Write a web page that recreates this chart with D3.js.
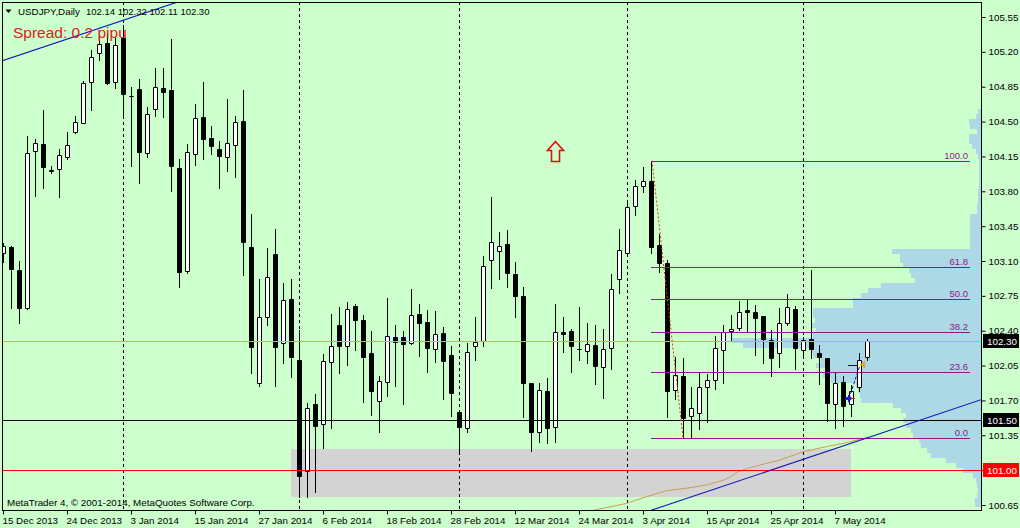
<!DOCTYPE html>
<html><head><meta charset="utf-8">
<script src="https://cdn.jsdelivr.net/npm/d3@7"></script>
<style>
html,body{margin:0;padding:0;background:#ccffcc;overflow:hidden;}
svg{display:block;}
</style></head><body>
<svg id="c" width="1020" height="528"></svg>
<script>
// ---------------- DATA ----------------
const symbolName = "USDJPY,Daily";
const opens = [103.18,103.24,103.01,102.63,104.20,104.27,104.01,104.02,104.14,104.40,
104.49,104.90,105.19,105.29,104.90,105.34,104.76,104.83,104.18,104.63,
104.84,104.82,104.03,103.00,104.17,104.55,104.34,104.22,104.14,104.26,
104.51,103.24,101.88,102.54,103.17,102.28,102.72,102.11,100.99,101.66,
101.46,102.09,102.46,102.25,102.65,102.51,102.18,101.69,101.89,102.34,
102.34,102.28,102.57,102.49,102.22,102.38,102.16,101.58,101.42,102.25,
102.30,103.11,103.20,103.27,102.97,102.75,101.88,101.38,101.79,101.43,
102.39,102.40,102.22,102.20,102.26,102.04,102.23,102.92,103.18,103.65,
103.85,103.90,103.26,103.08,101.80,101.95,101.54,101.57,101.83,101.91,
102.21,102.40,102.43,102.61,102.59,102.55,102.31,102.18,102.48,102.62,
102.21,102.32,102.18,102.13,101.66,101.89,101.66,101.83,102.14];
const highs = [103.28,103.25,103.10,104.36,104.33,104.62,104.05,104.22,104.40,104.56,
104.91,105.22,105.37,105.38,105.34,105.47,104.85,104.93,104.65,105.04,
105.04,105.33,104.12,104.27,104.68,104.90,104.46,104.30,104.73,104.56,
104.82,103.57,102.92,103.23,103.42,102.88,102.92,102.41,101.67,101.76,
102.17,102.57,102.64,102.69,102.67,102.56,102.40,101.95,102.73,102.46,
102.40,102.82,102.67,102.61,102.60,102.44,102.25,101.60,102.28,102.54,
103.15,103.74,103.39,103.41,103.09,102.84,101.88,101.87,101.93,102.67,
102.54,102.42,102.64,102.48,102.46,102.42,102.97,103.42,103.70,103.91,
104.04,104.107,103.37,103.11,102.14,102.13,101.83,101.99,101.97,102.35,
102.46,102.56,102.70,102.71,102.66,102.55,102.41,102.63,102.77,102.65,
102.34,103.01,102.26,102.13,101.99,101.95,101.85,102.18,102.32];
const lows = [103.09,102.63,102.48,102.62,103.75,103.83,103.98,103.74,104.12,104.39,
104.49,104.62,105.12,104.88,104.84,104.54,104.05,103.88,104.14,104.56,
104.55,103.80,102.84,102.98,104.06,104.12,104.17,103.83,104.00,103.94,
102.96,101.98,101.84,102.46,101.84,102.08,101.94,100.73,100.73,100.78,
101.22,101.42,101.98,102.06,102.21,101.68,101.55,101.38,101.74,101.84,
101.66,102.27,102.15,101.99,102.09,101.71,101.54,101.17,101.38,102.11,
102.25,102.83,102.92,102.84,102.54,101.53,101.19,101.28,101.27,101.28,
102.19,101.99,102.11,102.08,101.86,101.72,102.02,102.78,103.16,103.56,
103.79,103.18,102.99,101.53,101.71,101.326,101.32,101.41,101.48,101.81,
101.87,102.31,102.41,102.40,102.16,102.08,101.95,102.04,102.46,102.02,
102.13,102.13,101.86,101.49,101.42,101.44,101.54,101.79,102.11];
const closes = [103.25,103.02,102.63,104.18,104.28,104.04,104.00,104.16,104.26,104.50,
104.89,105.15,105.28,104.89,105.27,104.78,104.76,104.19,104.58,104.85,
104.80,104.05,102.99,104.19,104.54,104.33,104.25,104.15,104.28,104.50,
103.29,102.24,102.54,102.94,102.24,102.71,102.14,100.94,101.62,101.44,
102.10,102.25,102.25,102.62,102.51,102.14,101.79,101.90,102.35,102.29,
102.27,102.56,102.48,102.23,102.37,102.10,101.77,101.43,102.19,102.29,
103.05,103.29,103.25,102.98,102.75,101.87,101.38,101.80,101.42,102.39,
102.37,102.25,102.22,102.27,102.05,102.22,102.82,103.21,103.64,103.85,
103.90,103.24,103.08,101.79,101.96,101.52,101.62,101.83,101.91,102.23,
102.39,102.42,102.59,102.59,102.53,102.32,102.13,102.48,102.64,102.23,
102.31,102.22,102.14,101.67,101.88,101.64,101.79,102.11,102.30];

const priceTicks = [105.55,105.20,104.85,104.50,104.15,103.80,103.45,103.10,102.75,102.40,102.05,101.70,101.35,101.00,100.65];
const dateLabels = ["15 Dec 2013","24 Dec 2013","3 Jan 2014","15 Jan 2014","27 Jan 2014","6 Feb 2014","18 Feb 2014","28 Feb 2014","12 Mar 2014","24 Mar 2014","3 Apr 2014","15 Apr 2014","25 Apr 2014","7 May 2014"];
const dateLabelBars = [0,8,16,24,32,40,48,56,64,72,80,88,96,104];
const separatorBars = [15,37,57,78,100];

// moving average (starts at bar 73)
const maStartBar = 73;
const maValues = [100.58,100.600,100.617,100.633,100.650,100.667,100.695,100.722,100.747,100.771,
100.794,100.804,100.814,100.825,100.838,100.851,100.875,100.897,100.937,100.989,
101.015,101.038,101.059,101.079,101.099,101.127,101.155,101.185,101.202,101.220,
101.237,101.253,101.269,101.287,101.307,101.327];

// volume profile (price level, relative volume)
const profileLevels = [104.60,104.55,104.50,104.45,104.40,104.35,104.30,104.25,104.20,104.15,
104.10,104.05,104.00,103.95,103.90,103.85,103.80,103.75,103.70,103.65,
103.60,103.55,103.50,103.45,103.40,103.35,103.30,103.25,103.20,103.15,
103.10,103.05,103.00,102.95,102.90,102.85,102.80,102.75,102.70,102.65,
102.60,102.55,102.50,102.45,102.40,102.35,102.30,102.25,102.20,102.15,
102.10,102.05,102.00,101.95,101.90,101.85,101.80,101.75,101.70,101.65,
101.60,101.55,101.50,101.45,101.40,101.35,101.30,101.25,101.20,101.15,
101.10,101.05,101.00,100.95,100.90,100.85,100.80,100.75,100.70,100.65];
const profileCounts = [3,5,12,11,4,12,12,9,5,3,
2,2,2,2,2,2,3,3,3,4,
4,11,11,11,11,11,11,11,89,81,
81,78,72,70,66,100,113,120,128,128,
168,168,166,169,165,168,249,238,169,168,
160,165,155,158,150,125,123,121,120,88,
80,75,78,75,70,68,62,60,54,50,
35,25,18,8,5,4,3,4,6,6];

// horizontal line objects
const hLinePrices = [102.30, 101.50, 101.00];
// gray zone rectangle
const zoneBars = [36, 106];
const zonePrices = [101.21, 100.73];
// fibonacci retracement
const fibAnchorBars = [81, 85];
const fibAnchorPrices = [104.107, 101.326];
const fibLevels = [100.0, 61.8, 50.0, 38.2, 23.6, 0.0];
// channel trend lines (two anchor points each)
const trendTopBars = [0, 22];
const trendTopPrices = [105.113, 105.705];
const trendBottomBars = [70, 122];
const trendBottomPrices = [100.30, 101.70];
// up arrow object
const arrowBar = 69, arrowPrice = 104.30;
// trade (open -> close)
const tradeBars = [105.75, 107.4];
const tradePrices = [101.72, 102.06];

// ---------------- DRAW ----------------
const W = 1020, H = 528;
const L = 2, T = 2, R = 981, B = 510;
const FONT = '"Liberation Sans", Arial, sans-serif';
const x = d3.scaleLinear().domain([0, 122.25]).range([3, 981]);
const y = d3.scaleLinear().domain([100.65, 105.55]).range([505, 17]);
const px = v => Math.round(v);

const svg = d3.select("#c");
svg.append("rect").attr("width", W).attr("height", H).attr("fill", "#ccffcc");
svg.append("defs").append("clipPath").attr("id", "clip")
  .append("rect").attr("x", L).attr("y", T).attr("width", R - L).attr("height", B - T);
const g = svg.append("g").attr("clip-path", "url(#clip)");

// gray zone
g.append("rect")
  .attr("x", x(zoneBars[0])).attr("width", x(zoneBars[1]) - x(zoneBars[0]))
  .attr("y", px(y(zonePrices[0]))).attr("height", px(y(zonePrices[1])) - px(y(zonePrices[0])))
  .attr("fill", "#d3d3d3");

// volume profile
const pw = d3.scaleLinear().domain([0, 250]).range([0, 250]);
g.selectAll("rect.prof").data(profileLevels).join("rect").attr("class", "prof")
  .attr("x", (d, i) => R - pw(profileCounts[i]))
  .attr("y", d => px(y(d + 0.025)))
  .attr("width", (d, i) => pw(profileCounts[i]))
  .attr("height", d => px(y(d - 0.025)) - px(y(d + 0.025)))
  .attr("fill", "#add8e6");

// period separators
g.selectAll("line.sep").data(separatorBars).join("line").attr("class", "sep")
  .attr("x1", d => px(x(d)) + 0.5).attr("x2", d => px(x(d)) + 0.5)
  .attr("y1", T).attr("y2", B)
  .attr("stroke", "#000").attr("stroke-width", 1).attr("stroke-dasharray", "3,3");

// moving average
const maLine = d3.line().x((d, i) => x(maStartBar + i)).y(d => y(d));
g.append("path").datum(maValues).attr("d", maLine)
  .attr("fill", "none").attr("stroke", "#c9a24a").attr("stroke-width", 1);

// candles
const bars = d3.range(opens.length).map(i => ({i, o: opens[i], h: highs[i], l: lows[i], c: closes[i]}));
const cg = g.append("g");
cg.selectAll("line.wick").data(bars).join("line").attr("class", "wick")
  .attr("x1", d => px(x(d.i)) + 0.5).attr("x2", d => px(x(d.i)) + 0.5)
  .attr("y1", d => px(y(d.h))).attr("y2", d => px(y(d.l)) + 1)
  .attr("stroke", "#000").attr("stroke-width", 1);
cg.selectAll("path.body").data(bars).join("path").attr("class", "body")
  .attr("d", d => {
    const cx = px(x(d.i));
    const t = px(y(Math.max(d.o, d.c))), b = px(y(Math.min(d.o, d.c)));
    return `M${cx - 2 + 0.5},${t + 0.5}h4v${b - t}h-4Z`;
  })
  .attr("fill", d => d.c >= d.o ? "#fff" : "#000")
  .attr("stroke", "#000").attr("stroke-width", 1);

// horizontal lines
const hColors = ["#38e4ec", "#000000", "#ff0000"];
g.selectAll("line.hl").data(hLinePrices).join("line").attr("class", "hl")
  .attr("x1", L).attr("x2", R)
  .attr("y1", d => px(y(d)) + 0.5).attr("y2", d => px(y(d)) + 0.5)
  .attr("stroke", (d, i) => hColors[i]).attr("stroke-width", 1.2);

// fibonacci
const FIB = "#8b1a8b";
const fibPrice = lv => fibAnchorPrices[1] + lv / 100 * (fibAnchorPrices[0] - fibAnchorPrices[1]);
const fibX1 = px(x(fibAnchorBars[0])), fibX2 = R - 11;
g.selectAll("line.fib").data(fibLevels).join("line").attr("class", "fib")
  .attr("x1", fibX1).attr("x2", fibX2)
  .attr("y1", d => px(y(fibPrice(d))) + 0.5).attr("y2", d => px(y(fibPrice(d))) + 0.5)
  .attr("stroke", FIB).attr("stroke-width", 1.2);
g.selectAll("text.fib").data(fibLevels).join("text").attr("class", "fib")
  .attr("x", fibX2 - 2).attr("y", d => px(y(fibPrice(d))) - 2)
  .attr("text-anchor", "end").attr("font-family", FONT).attr("font-size", 9.5)
  .attr("fill", FIB).text(d => d.toFixed(1));
g.append("line")
  .attr("x1", x(fibAnchorBars[0]) + 1).attr("y1", y(fibAnchorPrices[0]))
  .attr("x2", x(fibAnchorBars[1])).attr("y2", y(fibAnchorPrices[1]))
  .attr("stroke", "#d03a10").attr("stroke-width", 1).attr("stroke-dasharray", "2,2");

// trend lines (extended as rays across the plot)
function extLine(bars2, prices2) {
  const s = (prices2[1] - prices2[0]) / (bars2[1] - bars2[0]);
  const b0 = -2, b1 = 125;
  return [[x(b0), y(prices2[0] + s * (b0 - bars2[0]))], [x(b1), y(prices2[0] + s * (b1 - bars2[0]))]];
}
[[trendTopBars, trendTopPrices], [trendBottomBars, trendBottomPrices]].forEach(([bb, pp]) => {
  const pts = extLine(bb, pp);
  g.append("line").attr("x1", pts[0][0]).attr("y1", pts[0][1]).attr("x2", pts[1][0]).attr("y2", pts[1][1])
    .attr("stroke", "#1414b8").attr("stroke-width", 1.1);
});

// red hollow up arrow
{
  const ax = px(x(arrowBar)) + 0.5, ay = px(y(arrowPrice)) + 0.5;
  g.append("path")
    .attr("d", `M${ax},${ay} l8,9 h-4 v11 h-8 v-11 h-4 Z`)
    .attr("fill", "none").attr("stroke", "#e01010").attr("stroke-width", 1.6);
}

// trade marks
{
  const ox = x(tradeBars[0]), oy = y(tradePrices[0]);
  const cx2 = x(tradeBars[1]), cy2 = y(tradePrices[1]);
  g.append("line").attr("x1", ox).attr("y1", oy).attr("x2", cx2 - 2).attr("y2", cy2)
    .attr("stroke", "#0000cc").attr("stroke-width", 1).attr("stroke-dasharray", "3,2");
  g.append("line").attr("x1", ox - 1).attr("x2", cx2 - 5)
    .attr("y1", px(cy2) + 0.5).attr("y2", px(cy2) + 0.5)
    .attr("stroke", "#0000cc").attr("stroke-width", 1);
  g.append("path").attr("d", `M${ox - 4},${oy - 1.5}h3v-2.5l4.5,4l-4.5,4v-2.5h-3Z`)
    .attr("fill", "#1a1ad0");
  g.append("line").attr("x1", ox + 1).attr("x2", ox + 6).attr("y1", oy).attr("y2", oy)
    .attr("stroke", "#e01010").attr("stroke-width", 1);
  g.append("path").attr("d", `M${cx2 - 2},${cy2}l5,-4v8Z`).attr("fill", "#d9a441");
}

// frame
svg.append("rect").attr("x", L + 0.5).attr("y", T + 0.5).attr("width", R - L).attr("height", B - T)
  .attr("fill", "none").attr("stroke", "#000").attr("stroke-width", 1);

// right price axis
const yAxis = d3.axisRight(y).tickValues(priceTicks).tickSize(4).tickPadding(3)
  .tickFormat(d3.format(".2f"));
const ya = svg.append("g").attr("transform", `translate(${R + 0.5},0)`).call(yAxis);
ya.select(".domain").remove();
ya.selectAll("text").attr("font-family", FONT).attr("font-size", 9.8).attr("fill", "#000");
ya.selectAll("line").attr("stroke", "#000");

// bottom date axis
const xAxis = d3.axisBottom(x).tickValues(dateLabelBars).tickSize(4).tickPadding(3)
  .tickFormat((d, i) => dateLabels[i]);
const xa = svg.append("g").attr("transform", `translate(0,${B + 0.5})`).call(xAxis);
xa.select(".domain").remove();
xa.selectAll("text").attr("font-family", FONT).attr("font-size", 9.8).attr("fill", "#000")
  .attr("text-anchor", "start").attr("x", -1);
xa.selectAll("line").attr("stroke", "#000");

// price tags
const lastClose = closes[closes.length - 1];
const tagPrices = [lastClose, hLinePrices[1], hLinePrices[2]];
const tagFills = ["#000", "#000", "#ff0000"];
const tags = svg.selectAll("g.tag").data(tagPrices).join("g").attr("class", "tag");
tags.append("rect").attr("x", R + 2).attr("width", 36)
  .attr("y", d => px(y(d)) - 7).attr("height", 14).attr("fill", (d, i) => tagFills[i]);
tags.append("text").attr("x", R + 6).attr("y", d => px(y(d)) + 0.5).attr("dy", "0.35em")
  .attr("font-family", FONT).attr("font-size", 9.8).attr("fill", "#fff")
  .text(d => d.toFixed(2));

// header
svg.append("path").attr("d", "M5.5,9.5h6l-3,3.5Z").attr("fill", "#000");
svg.append("text").attr("x", 18).attr("y", 14.5).attr("font-family", FONT).attr("font-size", 9.8)
  .attr("fill", "#000").text(symbolName);
const last = opens.length - 1;
svg.append("text").attr("x", 86).attr("y", 14.5).attr("font-family", FONT).attr("font-size", 9.5)
  .attr("fill", "#000")
  .text([opens[last], highs[last], lows[last], closes[last]].map(v => v.toFixed(2)).join(" "));
svg.append("text").attr("x", 13).attr("y", 37.5).attr("font-family", FONT).attr("font-size", 15.5)
  .attr("fill", "#e0201a").text("Spread: 0.2 pipu");
svg.append("text").attr("x", 7).attr("y", 506).attr("font-family", FONT).attr("font-size", 9.8)
  .attr("fill", "#000").text("MetaTrader 4, © 2001-2014, MetaQuotes Software Corp.");
</script>
</body></html>
